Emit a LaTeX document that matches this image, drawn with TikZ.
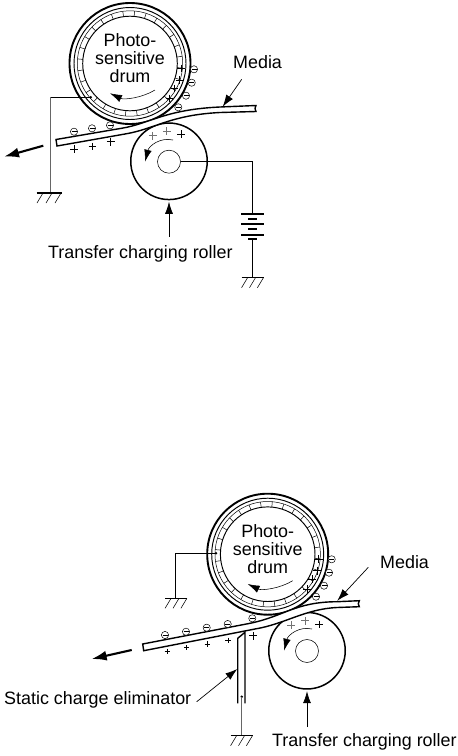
\documentclass[tikz,border=0pt]{standalone}
\usepackage{fontspec}
\setmainfont{Liberation Sans}
\usetikzlibrary{arrows.meta}
\tikzset{
  x=1pt,y=-1pt,
  lbl/.style={inner sep=0pt,font=\fontsize{17.9}{18}\selectfont,text=black},
  thickring/.style={line width=1.9pt},
  midring/.style={line width=0.95pt},
  thinring/.style={line width=0.5pt},
  wire/.style={line width=0.85pt},
  greywire/.style={line width=0.7pt,black!60},
  mediaedge/.style={line width=1.4pt,fill=white},
  leader/.style={line width=0.7pt,-{Latex[length=12pt,width=8pt]}},
  bigarrow/.style={line width=2.1pt,-{Latex[length=15pt,width=10pt]}},
  turn/.style={line width=0.55pt,-{Latex[length=12pt,width=7.5pt]}},
}
\newcommand{\drumshape}[3]{% x y name
  \node[circle,inner sep=0pt,minimum size=121pt,draw,thickring] (#3) at (#1,#2) {};
  \draw[midring] (#1,#2) circle[radius=56];
  \draw[thinring] (#1,#2) circle[radius=52.7];
  \draw[midring] (#1,#2) circle[radius=47.3];
  \foreach \k in {0,...,27}{\pgfmathsetmacro{\a}{\k*360/28+5}\draw[thinring] ({#1+47.3*cos(\a)},{#2+47.3*sin(\a)}) -- ({#1+52.7*cos(\a)},{#2+52.7*sin(\a)});}
  \node[lbl,align=center,text width=100pt] at (#1,{#2-5}) {Photo-\\sensitive\\drum};
}
\newcommand{\minuscharge}[2]{%
  \draw[thinring,fill=white] (#1,#2) circle[radius=3.6];
  \draw[thinring] ({#1-2.5},#2) -- ({#1+2.5},#2);
}
\newcommand{\pluscharge}[3][3.8]{%
  \draw[line width=0.8pt] ({#2-#1},#3) -- ({#2+#1},#3) (#2,{#3-#1}) -- (#2,{#3+#1});
}
\newcommand{\groundmark}[3]{% centre x, y, half width
  \draw[line width=1.4pt] ({#1-#3},#2) -- ({#1+#3},#2);
  \foreach \d in {-0.72,0,0.72}{\draw[line width=0.55pt] ({#1+\d*#3+3},#2) -- ({#1+\d*#3-3},{#2+10});}
}
\begin{document}
\begin{tikzpicture}
\useasboundingbox (0,0) rectangle (458,756);
\fill[white] (0,0) rectangle (458,756);

% ---------- upper figure ----------
\drumshape{130}{63.5}{drumA}
\draw[turn] (155,90) .. controls (142,98) and (124,100) .. (110,93.3);
\node[circle,inner sep=0pt,minimum size=76.5pt,draw,line width=1.5pt,fill=white] (rollerA) at (169,161.3) {};
\node[circle,inner sep=0pt,minimum size=23pt,draw,line width=0.55pt] (hubA) at (169,161.7) {};
\draw[mediaedge] (56,139.5) -- (122,128.2) .. controls (150,123.5) and (165,109.5) .. (220,107)
  -- (256,105.5) -- (255,108.5) -- (256,111.5) -- (220,112.5)
  .. controls (170,115) and (155,129) .. (125,134) -- (57,146) -- cycle;
\draw[turn] (173,140) .. controls (160,137) and (149,146) .. (145,161.7);
\foreach \px/\py in {194/69.3,191.7/82.7,186/95.7,178.3/107.3,74/131.7,92/128.3,110/125.3}{\minuscharge{\px}{\py}}
\foreach \px/\py in {181/68.3,179.3/80,174.3/88.3,169.3/98.3,74/149,92.3/146.3,110.7/141.7,181/134}{\pluscharge{\px}{\py}}
\begin{scope}[black!55]
\pluscharge{152.7}{135.7}
\pluscharge{166.7}{131}
\end{scope}
% ground wire of the drum
\coordinate (dotA) at (90.7,97.3);
\coordinate (cornerA) at (50,97.3);
\coordinate (gndA) at (50,193);
\fill (dotA) circle[radius=1.4];
\draw[wire] (dotA) -- (cornerA);
\draw[greywire] (cornerA) -- (gndA);
\groundmark{49}{193}{12.5}
% bias supply
\coordinate (cornerB) at (252.5,161.7);
\coordinate (batTop) at (252.5,214);
\coordinate (batBot) at (252.5,239);
\coordinate (gndB) at (252.5,277.7);
\draw[wire] (hubA.east) -- (cornerB) -- (batTop);
\draw[line width=1.4pt] (241,214) -- (264,214) (241,224) -- (264,224) (241,235) -- (264,235);
\draw[line width=1.4pt] (248,218.8) -- (257,218.8) (248,228.8) -- (257,228.8) (248,239) -- (257,239);
\draw[wire] (batBot) -- (gndB);
\groundmark{252.5}{277.7}{11}
% labels and leaders
\node[lbl,anchor=west] (mediaA) at (233,62) {Media};
\coordinate (mediaAtip) at (222.7,106.7);
\draw[leader] (241.7,79.3) -- (mediaAtip);
\node[lbl,anchor=west] (rollerlabelA) at (48,254) {Transfer charging roller};
\draw[leader,shorten >=1.5pt] (169,236.7) -- (rollerA.south);
\coordinate (outAa) at (43.3,145.7);
\coordinate (outAb) at (4,156.7);
\draw[bigarrow] (outAa) -- (outAb);

% ---------- lower figure ----------
\drumshape{267.7}{554.2}{drumB}
\draw[turn] (292.7,580.7) .. controls (279.7,588.7) and (261.7,590.7) .. (247.7,584);
\node[circle,inner sep=0pt,minimum size=76.5pt,draw,line width=1.5pt,fill=white] (rollerB) at (307,650.7) {};
\node[circle,inner sep=0pt,minimum size=23pt,draw,line width=0.55pt] (hubB) at (307,651) {};
\draw[mediaedge] (142.7,644) -- (250,623.3) .. controls (285,616) and (295,602) .. (337,601.7)
  -- (359.3,600.7) -- (358.3,603.7) -- (359.3,606.7) -- (337,607.5)
  .. controls (305,609) and (285,624) .. (255,629) -- (143.7,650.7) -- cycle;
\draw[turn] (312,629) .. controls (299,626) and (288,635) .. (284,650.7);
\foreach \px/\py in {331.7/559.3,329/572.7,324/585.7,316/596.7,165/635,186/631.7,206.7/627.7,227.7/624,252.3/618.3}{\minuscharge{\px}{\py}}
\foreach \px/\py in {318.7/559,317/570.7,312/579,307/589,319/624.3}{\pluscharge{\px}{\py}}
\begin{scope}[black!55]
\pluscharge{291}{625}
\pluscharge{305}{620.7}
\end{scope}
\foreach \px/\py in {167.3/651.3,186.7/647.7,207.3/644,228/640.3}{\pluscharge[2.6]{\px}{\py}}
\pluscharge{253}{635.7}
% ground wire of the drum
\coordinate (dotB) at (216,553.3);
\coordinate (cornerC) at (175,553.3);
\coordinate (gndC) at (175,598.3);
\fill (dotB) circle[radius=1.4];
\draw[wire] (dotB) -- (cornerC) -- (gndC);
\groundmark{176}{598.3}{11}
% eliminator
\draw[line width=1.4pt] (237.7,703.3) -- (237.7,638.3) -- (245,632.3) -- (245,703.3);
\coordinate (dotC) at (241.7,696.7);
\coordinate (gndD) at (241.7,735.7);
\fill (dotC) circle[radius=1.4];
\draw[greywire] (dotC) -- (gndD);
\groundmark{241.5}{735.7}{11}
% labels and leaders
\node[lbl,anchor=west] (mediaB) at (380,562) {Media};
\coordinate (mediaBtip) at (337.3,600.7);
\draw[leader] (368.3,567.3) -- (mediaBtip);
\node[lbl,anchor=west] (elimlabel) at (4,700) {Static charge eliminator};
\coordinate (elimtip) at (237.3,669);
\draw[leader] (196.7,701.7) -- (elimtip);
\node[lbl,anchor=west] (rollerlabelB) at (272,742) {Transfer charging roller};
\draw[leader,shorten >=1.5pt] (307,727) -- (rollerB.south);
\coordinate (outBa) at (131.7,650);
\coordinate (outBb) at (91.7,659);
\draw[bigarrow] (outBa) -- (outBb);
\end{tikzpicture}
\end{document}
